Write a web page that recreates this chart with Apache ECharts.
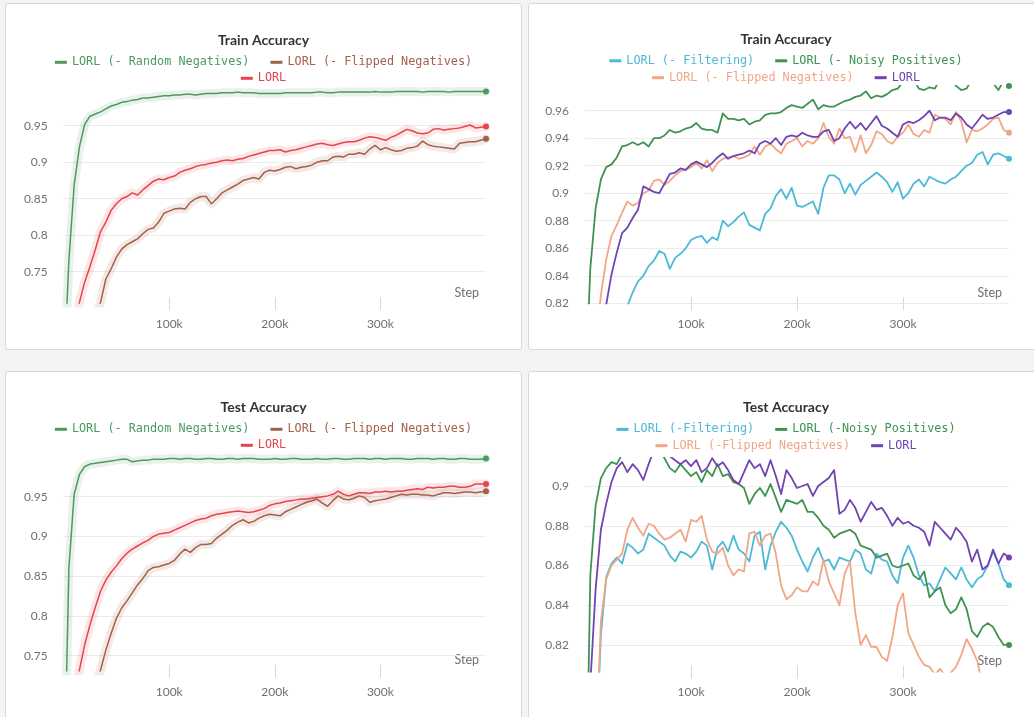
<!DOCTYPE html>
<html><head><meta charset="utf-8">
<script src="https://cdn.jsdelivr.net/npm/echarts@6.0.0/dist/echarts.min.js"></script>
<style>
html,body{margin:0;padding:0;width:1034px;height:717px;overflow:hidden;background:#f4f4f4;}
.card{position:absolute;background:#fff;border:1px solid #d9d9d9;border-radius:3px;box-sizing:border-box;}
.chart{position:absolute;}
</style></head><body>
<div class="card" style="left:5px;top:3px;width:517px;height:347px"></div>
<div class="card" style="left:528px;top:3px;width:520px;height:347px"></div>
<div class="card" style="left:5px;top:371px;width:517px;height:360px"></div>
<div class="card" style="left:528px;top:371px;width:520px;height:360px"></div>
<div id="c1" class="chart" style="left:5px;top:3px;width:517px;height:347px"></div>
<div id="c2" class="chart" style="left:528px;top:3px;width:516px;height:347px"></div>
<div id="c3" class="chart" style="left:5px;top:371px;width:517px;height:346px"></div>
<div id="c4" class="chart" style="left:528px;top:371px;width:516px;height:346px"></div>
<script>
// steps in thousands
const STEPS = [0,5,10,15,20,25,30,35,40,45,50,55,60,65,70,75,80,85,90,95,100,105,110,115,120,125,130,135,140,145,150,155,160,165,170,175,180,185,190,195,200,205,210,215,220,225,230,235,240,245,250,255,260,265,270,275,280,285,290,295,300,305,310,315,320,325,330,335,340,345,350,355,360,365,370,375,380,385,390,395,400];
const X_TICKS = [100,200,300];
const Y_TICKS_LEFT = [0.75,0.8,0.85,0.9,0.95];
const Y_TICKS_TRAIN_R = [0.82,0.84,0.86,0.88,0.9,0.92,0.94,0.96];
const Y_TICKS_TEST_R = [0.82,0.84,0.86,0.88,0.9];

// Train Accuracy (left)
const TRAIN_L_RANDOM = [0.600,0.765,0.869,0.921,0.952,0.963,0.966,0.969,0.973,0.977,
0.979,0.982,0.983,0.985,0.986,0.988,0.988,0.989,0.990,0.991,
0.991,0.992,0.992,0.993,0.993,0.992,0.993,0.994,0.994,0.994,
0.995,0.995,0.995,0.996,0.995,0.995,0.995,0.994,0.994,0.994,
0.994,0.994,0.995,0.995,0.995,0.995,0.995,0.995,0.996,0.996,
0.995,0.995,0.996,0.996,0.996,0.996,0.996,0.996,0.996,0.997,
0.996,0.996,0.996,0.997,0.997,0.997,0.997,0.997,0.996,0.997,
0.997,0.997,0.997,0.996,0.997,0.997,0.997,0.997,0.997,0.997,
0.997];
const TRAIN_L_FLIPPED = [0.500,0.540,0.580,0.610,0.640,0.670,0.690,0.708,0.740,0.754,
0.770,0.781,0.787,0.791,0.795,0.802,0.808,0.810,0.818,0.830,
0.833,0.836,0.837,0.836,0.845,0.850,0.853,0.853,0.843,0.850,
0.858,0.862,0.866,0.870,0.875,0.877,0.879,0.877,0.886,0.889,
0.888,0.890,0.893,0.894,0.891,0.893,0.894,0.896,0.900,0.902,
0.902,0.907,0.908,0.907,0.911,0.911,0.913,0.911,0.918,0.923,
0.917,0.920,0.917,0.915,0.916,0.919,0.920,0.922,0.929,0.924,
0.922,0.921,0.920,0.919,0.918,0.926,0.927,0.928,0.928,0.930,
0.932];
const TRAIN_L_LORL = [0.550,0.610,0.660,0.708,0.736,0.757,0.780,0.805,0.818,0.834,
0.843,0.850,0.853,0.858,0.855,0.862,0.868,0.874,0.877,0.876,
0.879,0.881,0.886,0.889,0.891,0.894,0.896,0.897,0.899,0.900,
0.902,0.903,0.902,0.904,0.905,0.908,0.910,0.912,0.914,0.916,
0.916,0.917,0.914,0.916,0.917,0.919,0.921,0.923,0.925,0.926,
0.924,0.923,0.925,0.927,0.928,0.928,0.930,0.933,0.935,0.934,
0.932,0.930,0.934,0.937,0.941,0.945,0.943,0.940,0.939,0.940,
0.945,0.946,0.944,0.945,0.946,0.947,0.949,0.951,0.947,0.948,
0.949];

// Test Accuracy (left)
const TEST_L_RANDOM = [0.550,0.860,0.953,0.978,0.988,0.991,0.992,0.993,0.994,0.995,
0.996,0.997,0.997,0.994,0.995,0.996,0.996,0.997,0.997,0.997,
0.998,0.998,0.997,0.998,0.998,0.997,0.997,0.998,0.998,0.997,
0.997,0.998,0.998,0.997,0.998,0.998,0.998,0.997,0.997,0.997,
0.998,0.997,0.997,0.998,0.998,0.997,0.997,0.997,0.998,0.997,
0.997,0.998,0.998,0.997,0.997,0.998,0.998,0.998,0.997,0.998,
0.998,0.997,0.998,0.998,0.998,0.997,0.997,0.998,0.998,0.998,
0.997,0.998,0.998,0.997,0.997,0.998,0.998,0.997,0.997,0.997,
0.998];
const TEST_L_FLIPPED = [0.500,0.550,0.600,0.640,0.670,0.695,0.715,0.732,0.757,0.778,
0.797,0.810,0.819,0.829,0.839,0.847,0.857,0.861,0.862,0.864,
0.866,0.870,0.878,0.884,0.880,0.886,0.890,0.890,0.891,0.898,
0.903,0.908,0.914,0.918,0.921,0.917,0.919,0.923,0.926,0.928,
0.927,0.926,0.931,0.934,0.937,0.940,0.943,0.945,0.947,0.942,
0.938,0.945,0.951,0.947,0.946,0.948,0.951,0.949,0.943,0.945,
0.946,0.947,0.949,0.951,0.953,0.952,0.953,0.953,0.952,0.952,
0.951,0.953,0.955,0.955,0.954,0.955,0.956,0.956,0.955,0.956,
0.957];
const TEST_L_LORL = [0.580,0.640,0.690,0.732,0.764,0.789,0.811,0.831,0.845,0.855,
0.863,0.872,0.879,0.884,0.888,0.892,0.895,0.900,0.903,0.904,
0.905,0.908,0.911,0.914,0.917,0.920,0.922,0.923,0.926,0.928,
0.929,0.930,0.931,0.932,0.931,0.930,0.931,0.933,0.935,0.939,
0.941,0.942,0.944,0.945,0.946,0.947,0.947,0.948,0.949,0.950,
0.951,0.953,0.957,0.953,0.951,0.953,0.955,0.955,0.954,0.956,
0.956,0.957,0.956,0.957,0.957,0.958,0.959,0.960,0.959,0.962,
0.961,0.962,0.962,0.963,0.963,0.962,0.962,0.963,0.966,0.966,
0.966];

// Train Accuracy (right)
const TRAIN_R_FILTER = [0.650,0.680,0.710,0.740,0.765,0.785,0.800,0.810,0.818,0.828,
0.836,0.840,0.847,0.851,0.858,0.856,0.845,0.853,0.856,0.860,
0.866,0.868,0.869,0.864,0.868,0.866,0.880,0.876,0.879,0.883,
0.886,0.877,0.875,0.873,0.885,0.889,0.898,0.903,0.896,0.904,
0.891,0.890,0.892,0.894,0.885,0.904,0.913,0.913,0.910,0.900,
0.907,0.899,0.906,0.909,0.912,0.915,0.912,0.908,0.901,0.908,
0.896,0.900,0.907,0.910,0.905,0.912,0.910,0.908,0.907,0.910,
0.912,0.916,0.920,0.922,0.928,0.930,0.921,0.928,0.929,0.927,
0.925];
const TRAIN_R_NOISY = [0.750,0.845,0.889,0.910,0.919,0.921,0.926,0.934,0.935,0.937,
0.935,0.937,0.934,0.940,0.940,0.942,0.946,0.944,0.945,0.947,
0.948,0.951,0.947,0.946,0.946,0.944,0.958,0.954,0.954,0.953,
0.954,0.950,0.952,0.953,0.957,0.958,0.958,0.959,0.962,0.964,
0.963,0.962,0.965,0.968,0.961,0.964,0.963,0.963,0.965,0.967,
0.968,0.970,0.971,0.974,0.969,0.971,0.970,0.972,0.975,0.976,
0.981,0.984,0.983,0.976,0.975,0.977,0.976,0.983,0.985,0.984,
0.978,0.975,0.976,0.983,0.985,0.986,0.984,0.980,0.975,0.982,
0.978];
const TRAIN_R_FLIPPED = [0.700,0.740,0.790,0.826,0.852,0.869,0.877,0.886,0.894,0.891,
0.893,0.900,0.902,0.909,0.910,0.906,0.909,0.913,0.916,0.917,
0.919,0.922,0.918,0.924,0.916,0.922,0.925,0.926,0.927,0.925,
0.926,0.928,0.934,0.928,0.934,0.936,0.932,0.929,0.936,0.938,
0.940,0.934,0.938,0.936,0.940,0.951,0.941,0.936,0.947,0.940,
0.941,0.930,0.942,0.929,0.935,0.945,0.943,0.938,0.936,0.941,
0.944,0.950,0.943,0.941,0.946,0.944,0.957,0.955,0.954,0.950,
0.959,0.952,0.937,0.946,0.945,0.947,0.950,0.954,0.955,0.946,
0.944];
const TRAIN_R_LORL = [0.680,0.720,0.760,0.790,0.819,0.841,0.857,0.871,0.875,0.882,
0.888,0.905,0.903,0.901,0.900,0.907,0.914,0.915,0.918,0.917,
0.921,0.923,0.921,0.919,0.922,0.926,0.929,0.925,0.927,0.928,
0.929,0.931,0.929,0.936,0.938,0.936,0.940,0.935,0.941,0.942,
0.941,0.944,0.942,0.941,0.941,0.945,0.946,0.938,0.940,0.947,
0.952,0.947,0.951,0.946,0.951,0.956,0.949,0.947,0.944,0.941,
0.950,0.952,0.951,0.953,0.956,0.960,0.953,0.955,0.955,0.953,
0.958,0.955,0.950,0.947,0.952,0.957,0.954,0.955,0.957,0.959,
0.959];

// Test Accuracy (right)
const TEST_R_FILTER = [0.600,0.700,0.760,0.825,0.854,0.861,0.864,0.861,0.871,0.869,
0.866,0.868,0.876,0.874,0.872,0.870,0.865,0.862,0.867,0.866,
0.864,0.867,0.872,0.870,0.858,0.869,0.872,0.867,0.875,0.868,
0.866,0.862,0.875,0.877,0.858,0.870,0.877,0.882,0.879,0.875,
0.868,0.862,0.857,0.864,0.869,0.862,0.863,0.858,0.864,0.863,
0.862,0.868,0.866,0.858,0.856,0.866,0.863,0.862,0.855,0.851,
0.864,0.870,0.864,0.855,0.850,0.851,0.847,0.853,0.859,0.856,
0.853,0.859,0.853,0.849,0.853,0.855,0.860,0.867,0.861,0.853,
0.850];
const TEST_R_NOISY = [0.700,0.855,0.890,0.904,0.909,0.912,0.911,0.916,0.918,0.917,
0.919,0.917,0.919,0.920,0.918,0.914,0.909,0.907,0.911,0.908,
0.905,0.907,0.902,0.908,0.905,0.911,0.905,0.906,0.902,0.901,
0.899,0.891,0.896,0.899,0.895,0.901,0.894,0.887,0.893,0.892,
0.891,0.893,0.887,0.887,0.884,0.880,0.878,0.874,0.876,0.877,
0.878,0.876,0.870,0.869,0.868,0.864,0.865,0.866,0.860,0.859,
0.860,0.861,0.855,0.853,0.857,0.844,0.847,0.849,0.840,0.836,
0.838,0.844,0.838,0.827,0.824,0.829,0.831,0.829,0.824,0.820,
0.820];
const TEST_R_FLIPPED = [0.600,0.680,0.760,0.832,0.853,0.860,0.863,0.866,0.878,0.884,
0.879,0.875,0.881,0.880,0.876,0.873,0.874,0.876,0.878,0.872,
0.883,0.882,0.885,0.873,0.867,0.866,0.869,0.860,0.855,0.858,
0.857,0.876,0.877,0.870,0.875,0.876,0.866,0.850,0.843,0.845,
0.849,0.847,0.847,0.852,0.850,0.863,0.852,0.846,0.840,0.856,
0.862,0.836,0.820,0.825,0.819,0.819,0.814,0.812,0.824,0.840,
0.846,0.826,0.820,0.814,0.810,0.809,0.805,0.808,0.804,0.806,
0.809,0.815,0.823,0.818,0.812,0.800,0.798,0.795,0.797,0.796,
0.795];
const TEST_R_LORL = [0.650,0.800,0.848,0.878,0.891,0.902,0.909,0.912,0.907,0.911,
0.908,0.903,0.911,0.918,0.920,0.919,0.915,0.913,0.911,0.913,
0.910,0.913,0.907,0.909,0.914,0.910,0.912,0.908,0.903,0.901,
0.907,0.913,0.909,0.911,0.905,0.913,0.905,0.896,0.908,0.904,
0.899,0.900,0.901,0.895,0.900,0.902,0.904,0.908,0.886,0.888,
0.893,0.889,0.882,0.887,0.892,0.888,0.889,0.885,0.880,0.884,
0.881,0.882,0.880,0.879,0.877,0.870,0.882,0.879,0.876,0.873,
0.879,0.876,0.872,0.862,0.868,0.858,0.860,0.868,0.861,0.866,
0.864];

const C = {
  greenL:'#4c9a5e', brown:'#a3604a', red:'#e3464e',
  greenR:'#3f9352', cyan:'#4cb9d5', salmon:'#f2a686', purple:'#7143b3'
};
const LABEL_COLOR = '#707070';
const FONT = 'Lato, "Open Sans", sans-serif';
const MONO = '"DejaVu Sans Mono", "Liberation Mono", monospace';

function build(id, cfg) {
  const chart = echarts.init(document.getElementById(id), null, {renderer:'canvas'});
  const series = [];
  const colorByName = {};
  cfg.lines.forEach(L => {
    colorByName[L.name] = L.color;
    const data = STEPS.map((s, i) => [s, L.values[i]]);
    if (cfg.band) {
      series.push({
        type:'line', name:L.name + ' band', data, silent:true, symbol:'none', z:1,
        lineStyle:{width:9, color:L.color, opacity:0.13, cap:'round', join:'round'},
        emphasis:{disabled:true}
      });
    }
    series.push({
      type:'line', name:L.name, data, symbol:'circle', showSymbol:true,
      symbolSize:(v, p) => p.dataIndex === STEPS.length - 1 ? 6 : 0,
      itemStyle:{color:L.color}, lineStyle:{width:cfg.lw, color:L.color, join:'round'},
      z:3, emphasis:{disabled:true}
    });
  });
  const legend = cfg.rows.map(r => ({
    top:r.top, left:'center', padding:0, itemGap:21, itemWidth:12, itemHeight:3,
    icon:'rect', selectedMode:false,
    textStyle:{fontFamily:MONO, fontSize:11.8},
    data:r.items.map(n => ({name:n, textStyle:{color:colorByName[n], fontFamily:MONO, fontSize:11.8}}))
  }));
  const g = cfg.grid;
  chart.setOption({
    animation:false,
    title:{text:cfg.title, left:'center', top:cfg.titleTop, padding:0,
      textStyle:{fontFamily:FONT, fontWeight:'bold', fontSize:14, color:'#333'}},
    legend,
    graphic:[{
      type:'text', silent:true,
      x:g.left + g.width - 7, y:g.top + g.height - 10.5,
      style:{text:'Step', align:'right', verticalAlign:'middle', fill:LABEL_COLOR, font:'12.5px ' + FONT}
    }],
    grid:Object.assign({outerBoundsMode:'none', containLabel:false}, g),
    xAxis:{
      type:'value', min:0, max:400, offset:7,
      axisLine:{show:false},
      axisTick:{show:true, inside:true, length:13, customValues:X_TICKS, lineStyle:{color:'#d8d8d8', width:1}},
      axisLabel:{customValues:X_TICKS, margin:8, formatter:v => v + 'k', color:LABEL_COLOR, fontFamily:FONT, fontSize:12},
      splitLine:{show:false}
    },
    yAxis:{
      type:'value', min:cfg.yMin, max:cfg.yMax,
      axisLine:{show:false},
      axisTick:{show:false, customValues:cfg.yTicks},
      axisLabel:{customValues:cfg.yTicks, margin:16, color:LABEL_COLOR, fontFamily:FONT, fontSize:12,
        formatter:v => String(Math.round(v * 1000) / 1000)},
      splitLine:{show:true, lineStyle:{color:'#ececec', width:1}}
    },
    series
  });
}

build('c1', {
  title:'Train Accuracy', titleTop:30, band:true, lw:1.5,
  grid:{left:58.6, top:86.2, width:422.4, height:213.9},
  yMin:0.707, yMax:1.0, yTicks:Y_TICKS_LEFT,
  rows:[{top:53.3, items:['LORL (- Random Negatives)','LORL (- Flipped Negatives)']},{top:69.3, items:['LORL']}],
  lines:[
    {name:'LORL (- Random Negatives)', color:C.greenL, values:TRAIN_L_RANDOM},
    {name:'LORL (- Flipped Negatives)', color:C.brown, values:TRAIN_L_FLIPPED},
    {name:'LORL', color:C.red, values:TRAIN_L_LORL}
  ]
});
build('c2', {
  title:'Train Accuracy', titleTop:29, band:false, lw:1.8,
  grid:{left:57, top:82.9, width:424, height:217.4},
  yMin:0.82, yMax:0.978, yTicks:Y_TICKS_TRAIN_R,
  rows:[{top:51.8, items:['LORL (- Filtering)','LORL (- Noisy Positives)']},{top:68.7, items:['LORL (- Flipped Negatives)','LORL']}],
  lines:[
    {name:'LORL (- Filtering)', color:C.cyan, values:TRAIN_R_FILTER},
    {name:'LORL (- Noisy Positives)', color:C.greenR, values:TRAIN_R_NOISY},
    {name:'LORL (- Flipped Negatives)', color:C.salmon, values:TRAIN_R_FLIPPED},
    {name:'LORL', color:C.purple, values:TRAIN_R_LORL}
  ]
});
build('c3', {
  title:'Test Accuracy', titleTop:29.3, band:true, lw:1.5,
  grid:{left:58.6, top:85.95, width:422.4, height:213.85},
  yMin:0.731, yMax:1.0, yTicks:Y_TICKS_LEFT,
  rows:[{top:52.3, items:['LORL (- Random Negatives)','LORL (- Flipped Negatives)']},{top:68.3, items:['LORL']}],
  lines:[
    {name:'LORL (- Random Negatives)', color:C.greenL, values:TEST_L_RANDOM},
    {name:'LORL (- Flipped Negatives)', color:C.brown, values:TEST_L_FLIPPED},
    {name:'LORL', color:C.red, values:TEST_L_LORL}
  ]
});
build('c4', {
  title:'Test Accuracy', titleTop:29.3, band:false, lw:1.8,
  grid:{left:57, top:86.8, width:424, height:213.8},
  yMin:0.8066, yMax:0.9142, yTicks:Y_TICKS_TEST_R,
  rows:[{top:52.4, items:['LORL (-Filtering)','LORL (-Noisy Positives)']},{top:68.7, items:['LORL (-Flipped Negatives)','LORL']}],
  lines:[
    {name:'LORL (-Filtering)', color:C.cyan, values:TEST_R_FILTER},
    {name:'LORL (-Noisy Positives)', color:C.greenR, values:TEST_R_NOISY},
    {name:'LORL (-Flipped Negatives)', color:C.salmon, values:TEST_R_FLIPPED},
    {name:'LORL', color:C.purple, values:TEST_R_LORL}
  ]
});
</script>
</body></html>
